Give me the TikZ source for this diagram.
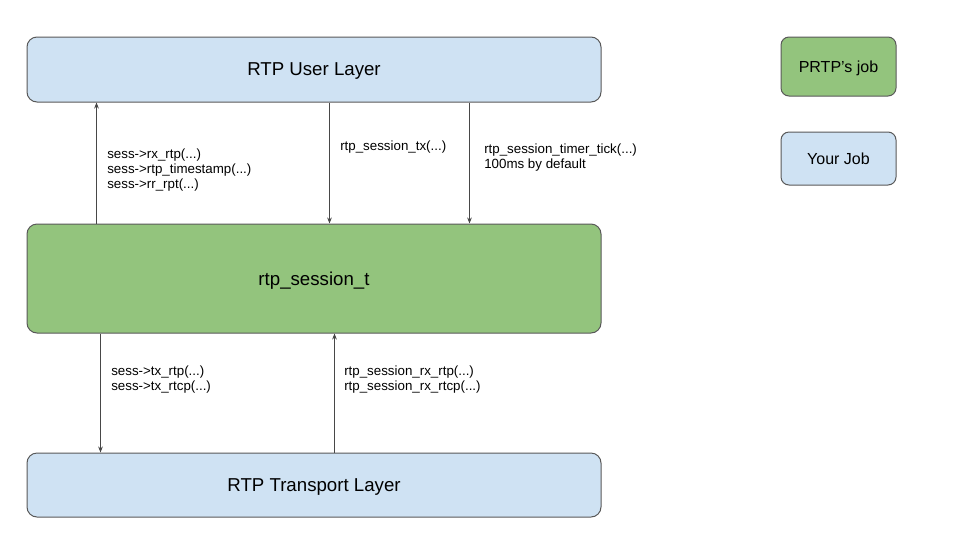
\documentclass[tikz,border=0pt]{standalone}
\usepackage{fontspec}
\setmainfont{Liberation Sans}
\usetikzlibrary{arrows.meta}
\definecolor{userblue}{HTML}{CFE2F3}
\definecolor{jobgreen}{HTML}{93C47D}
\definecolor{edgegray}{HTML}{595959}
\begin{document}
\begin{tikzpicture}[x=0.75pt, y=-0.75pt,
    layer/.style={draw=edgegray, line width=0.75pt, rounded corners=7.5pt, minimum width=430.5pt, text depth=0pt, font=\fontsize{14pt}{17pt}\selectfont},
    legend/.style={draw=edgegray, line width=0.75pt, rounded corners=6pt, minimum width=86.25pt, text depth=0pt, font=\fontsize{12pt}{14pt}\selectfont},
    flow/.style={draw=edgegray!80!black, line width=0.6pt, -{Stealth[length=4.5pt,width=3.5pt]}},
    call/.style={anchor=west, inner sep=0pt, align=left, font=\fontsize{10pt}{11.5pt}\selectfont}]
    \useasboundingbox (0,0) rectangle (960,540);
    \node[layer, fill=userblue, minimum height=48.75pt] (user) at (314,69.5) {RTP User Layer};
    \node[layer, fill=jobgreen, minimum height=81.75pt] (sess) at (314,278.5) {rtp\_session\_t};
    \node[layer, fill=userblue, minimum height=48pt] (trans) at (314,485) {RTP Transport Layer};
    \node[legend, fill=jobgreen, minimum height=44.25pt] (prtp) at (838.5,66.5) {PRTP’s job};
    \node[legend, fill=userblue, minimum height=39.75pt] (your) at (838.5,158.5) {Your Job};
    \draw[flow] ([xshift=52.5pt]sess.north west) -- ([xshift=52.5pt]user.south west);
    \draw[flow] ([xshift=227.25pt]user.south west) -- ([xshift=227.25pt]sess.north west);
    \draw[flow] ([xshift=332.25pt]user.south west) -- ([xshift=332.25pt]sess.north west);
    \draw[flow] ([xshift=55.5pt]sess.south west) -- ([xshift=55.5pt]trans.north west);
    \draw[flow] ([xshift=231pt]trans.north west) -- ([xshift=231pt]sess.south west);
    \node[call] (upcalls) at (107,170) {sess->rx\_rtp(...)\\sess->rtp\_timestamp(...)\\sess->rr\_rpt(...)};
    \node[call] (txcall) at (340,147) {rtp\_session\_tx(...)};
    \node[call] (tick) at (484,157.5) {rtp\_session\_timer\_tick(...)\\100ms by default};
    \node[call] (downcalls) at (111,379.5) {sess->tx\_rtp(...)\\sess->tx\_rtcp(...)};
    \node[call] (rxcalls) at (344,379.5) {rtp\_session\_rx\_rtp(...)\\rtp\_session\_rx\_rtcp(...)};
\end{tikzpicture}
\end{document}
